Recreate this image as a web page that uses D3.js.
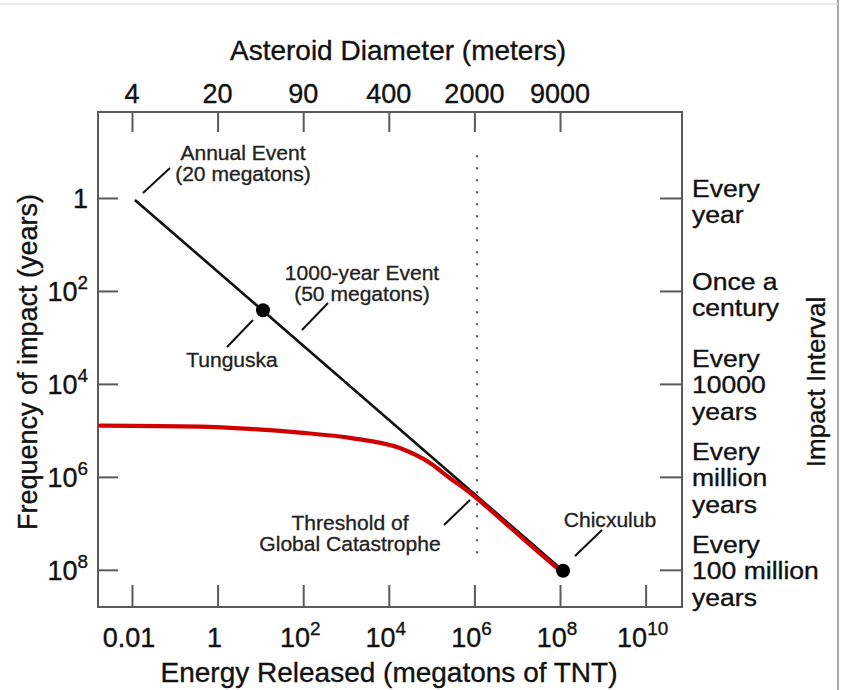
<!DOCTYPE html>
<html>
<head>
<meta charset="utf-8">
<script src="https://cdn.jsdelivr.net/npm/d3@7"></script>
<style>
  html, body { margin: 0; padding: 0; background: #ffffff; }
  svg { display: block; font-family: "Liberation Sans", Arial, Helvetica, sans-serif; }
  text.main { stroke: #111; stroke-width: 0.35px; }
  text.note { stroke: #222; stroke-width: 0.3px; }
</style>
</head>
<body>
<svg id="chart" width="850" height="690"></svg>
<script>
// ---------------- data ----------------
const energyTicks = [0.01, 1, 1e2, 1e4, 1e6, 1e8, 1e10];
const energyTickLabels = [["0.01", ""], ["1", ""], ["10", "2"], ["10", "4"], ["10", "6"], ["10", "8"], ["10", "10"]];

const diameterTickEnergy = [0.01, 1, 1e2, 1e4, 1e6, 1e8];
const diameterTickLabels = ["4", "20", "90", "400", "2000", "9000"];

const freqTicks = [1, 1e2, 1e4, 1e6, 1e8];
const freqTickLabels = [["1", ""], ["10", "2"], ["10", "4"], ["10", "6"], ["10", "8"]];

const intervalLabels = [
  ["Every", "year"],
  ["Once a", "century"],
  ["Every", "10000", "years"],
  ["Every", "million", "years"],
  ["Every", "100 million", "years"]
];

// black power-law line (energy in megatons, frequency in years)
const trendEnergy = [0.0117, 1.18e8];
const trendFreq = [1.1, 1.05e8];

// red curve
const redEnergy = [0.0018, 0.39, 5.7, 84, 1240, 18000, 91000, 2.7e5, 7.9e5, 4e6, 2e7, 9e7];
const redFreq = [7.9e4, 8.3e4, 9.3e4, 1.12e5, 1.45e5, 2.4e5, 5.0e5, 1.07e6, 2.2e6, 7.9e6, 2.9e7, 9.5e7];

// named events
const eventNames = ["Tunguska", "Chicxulub"];
const eventEnergy = [11.5, 1.18e8];
const eventFreq = [260, 1.05e8];

// threshold of global catastrophe
const thresholdEnergy = 1.15e6;
const thresholdFreqRange = [0.12, 5e7];

// ---------------- layout ----------------
const frame = { left: 98, right: 682, top: 112, bottom: 607 };
const svg = d3.select("#chart");

const x = d3.scaleLog()
  .domain([Math.pow(10, -2.794), Math.pow(10, 10.85)])
  .range([frame.left, frame.right]);
const y = d3.scaleLog()
  .domain([Math.pow(10, -1.85), Math.pow(10, 8.8)])
  .range([frame.top, frame.bottom]);

// page border lines
svg.append("line").attr("x1", 838).attr("x2", 838).attr("y1", 0).attr("y2", 690)
  .attr("stroke", "#a8a8a8").attr("stroke-width", 2);
svg.append("line").attr("x1", 0).attr("x2", 838).attr("y1", 4).attr("y2", 4)
  .attr("stroke", "#e4e4e4").attr("stroke-width", 1.5);

// frame
svg.append("rect")
  .attr("x", frame.left).attr("y", frame.top)
  .attr("width", frame.right - frame.left).attr("height", frame.bottom - frame.top)
  .attr("fill", "none").attr("stroke", "#5a5a5a").attr("stroke-width", 2);

// ticks via axes (inward)
function styleAxis(g) {
  g.select(".domain").remove();
  g.selectAll(".tick line").attr("stroke", "#5a5a5a").attr("stroke-width", 2);
  g.selectAll(".tick text").remove();
}
svg.append("g").attr("transform", `translate(0,${frame.bottom})`)
  .call(d3.axisBottom(x).tickValues(energyTicks).tickSize(-22).tickFormat(""))
  .call(styleAxis);
svg.append("g").attr("transform", `translate(0,${frame.top})`)
  .call(d3.axisTop(x).tickValues(diameterTickEnergy).tickSize(-20).tickFormat(""))
  .call(styleAxis);
svg.append("g").attr("transform", `translate(${frame.left},0)`)
  .call(d3.axisLeft(y).tickValues(freqTicks).tickSize(-20).tickFormat(""))
  .call(styleAxis);
svg.append("g").attr("transform", `translate(${frame.right},0)`)
  .call(d3.axisRight(y).tickValues(freqTicks).tickSize(-22).tickFormat(""))
  .call(styleAxis);

// tick labels with superscripts
function supLabel(sel, base, sup, size) {
  sel.append("tspan").text(base);
  if (sup) sel.append("tspan").attr("dy", -12).attr("font-size", size * 0.7).text(sup);
}
energyTicks.forEach((v, i) => {
  const t = svg.append("text").attr("class", "main").attr("x", x(v) - 3).attr("y", 647)
    .attr("text-anchor", "middle").attr("font-size", 27).attr("fill", "#111");
  supLabel(t, energyTickLabels[i][0], energyTickLabels[i][1], 27);
});
freqTicks.forEach((v, i) => {
  const t = svg.append("text").attr("class", "main").attr("x", 88).attr("y", y(v) + 10)
    .attr("text-anchor", "end").attr("font-size", 27).attr("fill", "#111");
  supLabel(t, freqTickLabels[i][0], freqTickLabels[i][1], 27);
});
diameterTickEnergy.forEach((v, i) => {
  svg.append("text").attr("class", "main").attr("x", x(v)).attr("y", 103)
    .attr("text-anchor", "middle").attr("font-size", 27).attr("fill", "#111")
    .text(diameterTickLabels[i]);
});

// right interval labels (slightly condensed height, wide glyphs)
intervalLabels.forEach((lines, i) => {
  const yy = y(freqTicks[i]);
  const first = lines.length === 2 ? yy - 1 : yy - 17;
  lines.forEach((ln, j) => {
    svg.append("text").attr("class", "main")
      .attr("transform", `translate(692,${first + j * 26.5}) scale(1.13,1)`)
      .attr("font-size", 23.5).attr("fill", "#111").text(ln);
  });
});

// axis titles
svg.append("text").attr("class", "main").attr("x", 398).attr("y", 60).attr("text-anchor", "middle")
  .attr("font-size", 28).attr("fill", "#111").text("Asteroid Diameter (meters)");
svg.append("text").attr("class", "main").attr("x", 389).attr("y", 682).attr("text-anchor", "middle")
  .attr("font-size", 28).attr("fill", "#111").text("Energy Released (megatons of TNT)");
svg.append("text").attr("class", "main").attr("transform", "translate(37,362) rotate(-90)").attr("text-anchor", "middle")
  .attr("font-size", 27).attr("fill", "#111").text("Frequency of impact (years)");
svg.append("text").attr("class", "main").attr("transform", "translate(825,382) rotate(-90)").attr("text-anchor", "middle")
  .attr("font-size", 26).attr("fill", "#111").text("Impact Interval");

// threshold dotted line
svg.append("line")
  .attr("x1", x(thresholdEnergy)).attr("x2", x(thresholdEnergy))
  .attr("y1", y(thresholdFreqRange[0])).attr("y2", y(thresholdFreqRange[1]))
  .attr("stroke", "#555").attr("stroke-width", 2.2).attr("stroke-dasharray", "2,10");

// black trend line
const line = d3.line().x(d => x(d[0])).y(d => y(d[1]));
svg.append("path").datum(d3.zip(trendEnergy, trendFreq))
  .attr("d", line).attr("fill", "none").attr("stroke", "#111").attr("stroke-width", 2.6);

// red curve
const redLine = d3.line().x(d => x(d[0])).y(d => y(d[1])).curve(d3.curveMonotoneX);
svg.append("path").datum(d3.zip(redEnergy, redFreq))
  .attr("d", redLine).attr("fill", "none").attr("stroke", "#d00000").attr("stroke-width", 4.2)
  .attr("stroke-linecap", "round");

// event dots
svg.selectAll("circle.event").data(d3.zip(eventEnergy, eventFreq)).enter()
  .append("circle").attr("class", "event")
  .attr("cx", d => x(d[0])).attr("cy", d => y(d[1])).attr("r", 7).attr("fill", "#000");

// annotations (label layout)
const annotations = [
  { lines: ["Annual Event", "(20 megatons)"], tx: 243, ty: 160, leader: [143, 193, 170, 168] },
  { lines: ["1000-year Event", "(50 megatons)"], tx: 362, ty: 280, leader: [302, 330, 328, 303] },
  { lines: ["Tunguska"], tx: 232, ty: 367, leader: [227, 347, 253, 320] },
  { lines: ["Threshold of", "Global Catastrophe"], tx: 350, ty: 530, leader: [444, 525, 470, 500] },
  { lines: ["Chicxulub"], tx: 610, ty: 527, leader: [575, 556, 602, 530] }
];
annotations.forEach(a => {
  svg.append("line").attr("x1", a.leader[0]).attr("y1", a.leader[1])
    .attr("x2", a.leader[2]).attr("y2", a.leader[3])
    .attr("stroke", "#111").attr("stroke-width", 2);
  a.lines.forEach((ln, j) => {
    svg.append("text").attr("class", "note")
      .attr("transform", `translate(${a.tx},${a.ty + j * 21}) scale(1.08,1)`)
      .attr("font-size", 19.5).attr("fill", "#222").attr("text-anchor", "middle").text(ln);
  });
});
</script>
</body>
</html>
